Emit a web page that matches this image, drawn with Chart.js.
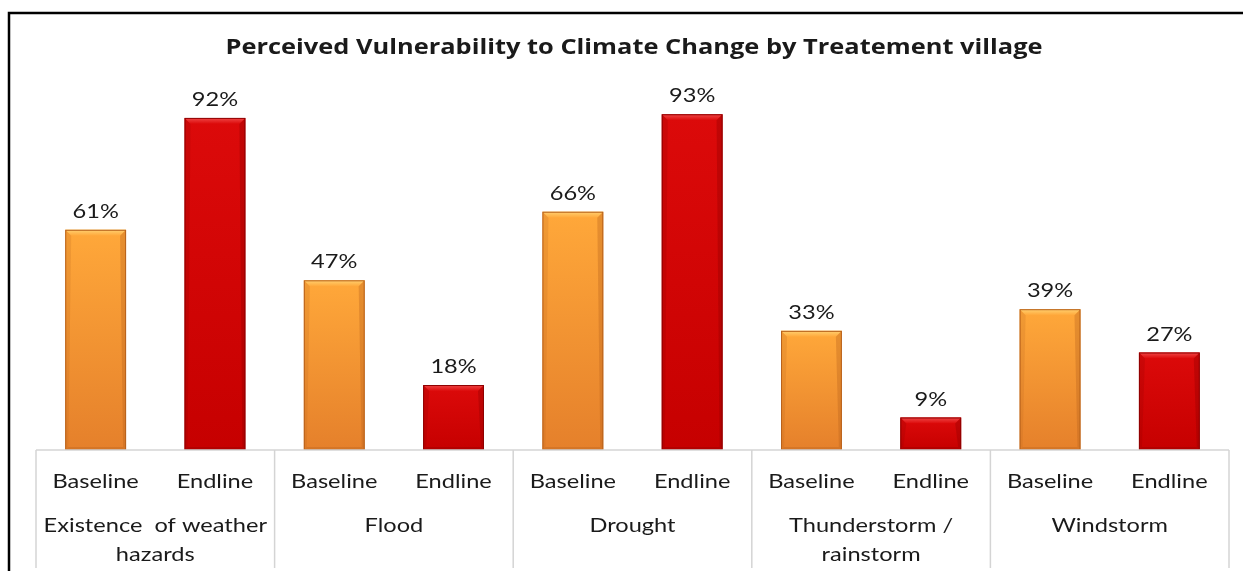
<!DOCTYPE html>
<html>
<head>
<meta charset="utf-8">
<script src="https://cdn.jsdelivr.net/npm/chart.js@4/dist/chart.umd.min.js"></script>
<style>
  html, body { margin: 0; padding: 0; background: #ffffff; }
  #wrap { width: 1243px; height: 571px; position: relative; }
</style>
</head>
<body>
<div id="wrap"><canvas id="chart" width="1243" height="571"></canvas></div>
<script>
// Survey phases shown under every bar
const phases = ["Baseline", "Endline"];
// Hazard groups (two bars each)
const hazards = [
  ["Existence  of weather", "hazards"],
  ["Flood"],
  ["Drought"],
  ["Thunderstorm /", "rainstorm"],
  ["Windstorm"]
];
// Share of respondents (%) per hazard
const baseline = [61, 47, 66, 33, 39];
const endline  = [92, 18, 93, 9, 27];

const titleText = "Perceived Vulnerability to Climate Change by Treatement village";
const FONT = "Lato, 'Open Sans', sans-serif";
const TITLE_FONT = "bold 21px 'Open Sans', Lato, sans-serif";
const TEXT_COLOR = "#1a1a1a";
const STRETCH = 1.18;      // horizontal widening of the body text
const TITLE_WIDTH = 817;   // rendered width of the heading

// Flatten the grouped data into one bar per category slot
const labels = [];
const values = [];
const phaseOf = [];
hazards.forEach((h, i) => {
  labels.push(phases[0]); values.push(baseline[i]); phaseOf.push(0);
  labels.push(phases[1]); values.push(endline[i]); phaseOf.push(1);
});

const palette = [
  { top: "#ffa83a", bottom: "#e5802b", edge: "#b8621c", bevel: "#ffd070" },
  { top: "#dc0a0a", bottom: "#c60000", edge: "#8e0000", bevel: "#f04848" }
];

function barFill(ctx) {
  const chart = ctx.chart;
  const yScale = chart.scales.y;
  const i = ctx.dataIndex;
  const p = palette[phaseOf[i] || 0];
  if (!yScale || i === undefined) return p.top;
  const top = yScale.getPixelForValue(values[i]);
  const base = yScale.getPixelForValue(0);
  if (!isFinite(top) || !isFinite(base) || base <= top) return p.top;
  const g = chart.ctx.createLinearGradient(0, top, 0, base);
  g.addColorStop(0, p.top);
  g.addColorStop(1, p.bottom);
  return g;
}

// Centered text on an alphabetic baseline, widened by sx
function wideText(c, text, cx, baselineY, font, sx) {
  c.save();
  c.font = font;
  c.fillStyle = TEXT_COLOR;
  c.textAlign = "center";
  c.textBaseline = "alphabetic";
  c.translate(cx, baselineY);
  c.scale(sx, 1);
  c.fillText(text, 0, 0);
  c.restore();
}

const decor = {
  id: "decor",
  beforeDraw(chart) {
    const c = chart.ctx;
    c.save();
    c.fillStyle = "#ffffff";
    c.fillRect(0, 0, chart.width, chart.height);
    // outer frame
    c.strokeStyle = "#000000";
    c.lineWidth = 2.5;
    c.beginPath();
    c.moveTo(9, chart.height);
    c.lineTo(9, 13);
    c.lineTo(chart.width, 13);
    c.stroke();
    // heading
    c.font = TITLE_FONT;
    const sx = TITLE_WIDTH / c.measureText(titleText).width;
    c.restore();
    wideText(c, titleText, 634, 54, TITLE_FONT, sx);
  },
  afterDatasetsDraw(chart) {
    const c = chart.ctx;
    const meta = chart.getDatasetMeta(0);
    c.save();
    meta.data.forEach((bar, i) => {
      const p = palette[phaseOf[i]];
      const w = bar.width;
      const l = bar.x - w / 2, r = bar.x + w / 2;
      const t = bar.y, b = bar.base;
      const bv = 6;
      // bevelled top
      const g = c.createLinearGradient(0, t, 0, t + bv);
      g.addColorStop(0, p.bevel);
      g.addColorStop(1, p.top);
      c.fillStyle = g;
      c.beginPath();
      c.moveTo(l, t); c.lineTo(r, t); c.lineTo(r - bv, t + bv); c.lineTo(l + bv, t + bv);
      c.closePath(); c.fill();
      // darker side bevels
      c.globalAlpha = 0.35;
      c.fillStyle = p.edge;
      c.beginPath();
      c.moveTo(r, t); c.lineTo(r, b); c.lineTo(r - 3, b - 3); c.lineTo(r - bv, t + bv);
      c.closePath(); c.fill();
      c.beginPath();
      c.moveTo(l, b); c.lineTo(r, b); c.lineTo(r - 3, b - 3); c.lineTo(l + 3, b - 3);
      c.closePath(); c.fill();
      c.globalAlpha = 0.2;
      c.beginPath();
      c.moveTo(l, t); c.lineTo(l, b); c.lineTo(l + 3, b - 3); c.lineTo(l + bv, t + bv);
      c.closePath(); c.fill();
      c.globalAlpha = 1;
      c.strokeStyle = p.edge;
      c.lineWidth = 1;
      c.strokeRect(l + 0.5, t + 0.5, w - 1, b - t - 1);
    });
    c.restore();
    // value labels
    meta.data.forEach((bar, i) => {
      wideText(c, values[i] + "%", bar.x, bar.y - 12, "20px " + FONT, STRETCH);
    });
  },
  afterDraw(chart) {
    const c = chart.ctx;
    const x = chart.scales.x;
    const axisY = chart.chartArea.bottom;
    c.save();
    c.strokeStyle = "#d4d4d4";
    c.lineWidth = 1.5;
    // axis line
    c.beginPath();
    c.moveTo(chart.chartArea.left, axisY);
    c.lineTo(chart.chartArea.right, axisY);
    c.stroke();
    // group separators
    const seps = [chart.chartArea.left];
    for (let g = 1; g < hazards.length; g++) {
      seps.push((x.getPixelForValue(2 * g - 1) + x.getPixelForValue(2 * g)) / 2);
    }
    seps.push(chart.chartArea.right);
    seps.forEach(sx => {
      c.beginPath();
      c.moveTo(sx, axisY);
      c.lineTo(sx, 568);
      c.stroke();
    });
    c.restore();
    // phase labels under each bar
    labels.forEach((lb, i) => {
      wideText(c, lb, x.getPixelForValue(i), 488, "20px " + FONT, STRETCH);
    });
    // hazard group labels
    hazards.forEach((lines, g) => {
      const cx = (x.getPixelForValue(2 * g) + x.getPixelForValue(2 * g + 1)) / 2;
      lines.forEach((ln, k) => wideText(c, ln, cx, 532 + k * 29, "20px " + FONT, STRETCH));
    });
  }
};

new Chart(document.getElementById("chart"), {
  type: "bar",
  data: {
    labels: labels,
    datasets: [{
      data: values,
      backgroundColor: barFill,
      borderWidth: 0,
      barPercentage: 0.51,
      categoryPercentage: 1.0
    }]
  },
  options: {
    responsive: false,
    animation: false,
    events: [],
    layout: { padding: { left: 36, right: 14, top: 89, bottom: 0 } },
    plugins: { legend: { display: false }, title: { display: false }, tooltip: { enabled: false } },
    scales: {
      y: { min: 0, max: 100, display: false },
      x: {
        grid: { display: false },
        border: { display: false },
        ticks: { display: false },
        afterFit(scale) { scale.height = 121; }
      }
    }
  },
  plugins: [decor]
});
</script>
</body>
</html>
